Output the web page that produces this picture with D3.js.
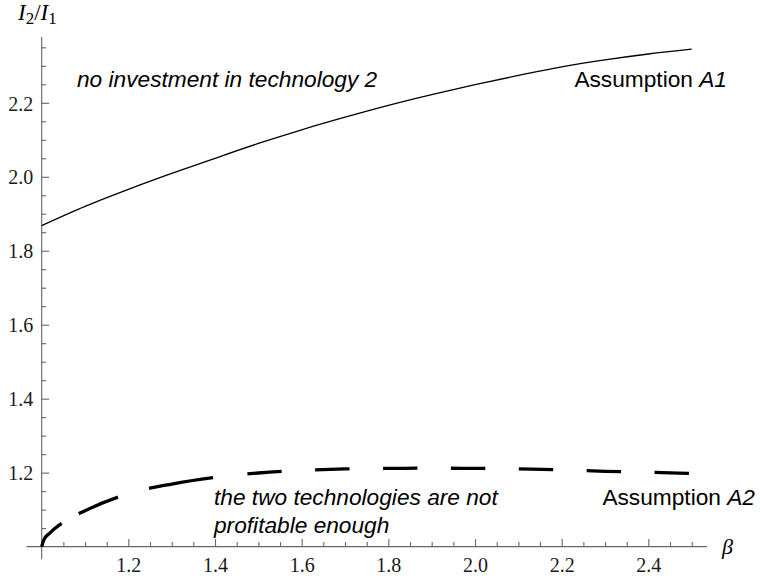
<!DOCTYPE html>
<html>
<head>
<meta charset="utf-8">
<script src="https://cdn.jsdelivr.net/npm/d3@7"></script>
<style>
  html, body { margin: 0; padding: 0; background: #fff; }
  svg { display: block; }
</style>
</head>
<body>
<svg id="chart" width="760" height="583"></svg>
<script>
// Investment ratio I2/I1 against beta under the two assumptions
const betaA1  = [1.0, 1.1, 1.2, 1.3, 1.4, 1.5, 1.6, 1.7, 1.8, 1.9, 2.0, 2.1, 2.2, 2.3, 2.4, 2.5];
const ratioA1 = [1.868, 1.920, 1.966, 2.009, 2.050, 2.090, 2.127, 2.161, 2.193, 2.222, 2.249, 2.274, 2.297, 2.316, 2.332, 2.345];

const betaA2  = [1.0, 1.005, 1.02, 1.05, 1.1, 1.2, 1.3, 1.4, 1.5, 1.6, 1.7, 1.8, 1.9, 2.0, 2.1, 2.2, 2.3, 2.4, 2.5];
const ratioA2 = [1.0, 1.018, 1.038, 1.066, 1.097, 1.143, 1.169, 1.187, 1.199, 1.206, 1.210, 1.2115, 1.212, 1.2115, 1.210, 1.2075, 1.2035, 1.201, 1.198];

const xTicks = [1.2, 1.4, 1.6, 1.8, 2.0, 2.2, 2.4];
const yTicks = [1.2, 1.4, 1.6, 1.8, 2.0, 2.2];
const xMinor = d3.range(21, 51).map(i => i * 0.05).filter(v => !xTicks.some(t => Math.abs(t - v) < 1e-6));
const yMinor = d3.range(21, 48).map(i => i * 0.05).filter(v => !yTicks.some(t => Math.abs(t - v) < 1e-6));

const svg = d3.select("#chart");

const x = d3.scaleLinear().domain([1, 2.5]).range([41.7, 691.7]);
const y = d3.scaleLinear().domain([1, 2.2]).range([546.6, 102.8]);

const axisColor = "#666";
const serif = "'Liberation Serif', 'Times New Roman', serif";
const sans = "'Liberation Sans', Arial, Helvetica, sans-serif";
const noteSize = 22.7;

// axis lines run a little past the origin on both sides
svg.append("line")
  .attr("x1", x(0.965)).attr("x2", x(2.535))
  .attr("y1", y(1)).attr("y2", y(1))
  .attr("stroke", axisColor).attr("stroke-width", 1.1);
svg.append("line")
  .attr("x1", x(1)).attr("x2", x(1))
  .attr("y1", y(0.966)).attr("y2", y(2.378))
  .attr("stroke", axisColor).attr("stroke-width", 1.1);

function styleAxis(g) {
  g.select(".domain").remove();
  g.selectAll(".tick line").attr("stroke", axisColor).attr("stroke-width", 1.1);
  g.selectAll(".tick text").attr("fill", "#1a1a1a").attr("font-family", serif).attr("font-size", 20);
}

// x axis: major and minor ticks pointing up
svg.append("g").attr("transform", `translate(0,${y(1)})`)
  .call(d3.axisBottom(x).tickValues(xMinor).tickSize(-4.5).tickFormat(""))
  .call(styleAxis);
svg.append("g").attr("transform", `translate(0,${y(1)})`)
  .call(d3.axisBottom(x).tickValues(xTicks).tickSize(-7.5).tickPadding(11.5).tickFormat(d3.format(".1f")))
  .call(styleAxis);

// y axis: ticks pointing right
svg.append("g").attr("transform", `translate(${x(1)},0)`)
  .call(d3.axisLeft(y).tickValues(yMinor).tickSize(-4.5).tickFormat(""))
  .call(styleAxis);
svg.append("g").attr("transform", `translate(${x(1)},0)`)
  .call(d3.axisLeft(y).tickValues(yTicks).tickSize(-7.5).tickPadding(8.5).tickFormat(d3.format(".1f")))
  .call(styleAxis)
  .call(g => g.selectAll(".tick text").attr("dy", "0.36em"));

// curves
const lineGen = d3.line().x(d => x(d[0])).y(d => y(d[1])).curve(d3.curveMonotoneX);

svg.append("path")
  .datum(d3.zip(betaA1, ratioA1))
  .attr("d", lineGen)
  .attr("fill", "none").attr("stroke", "#000").attr("stroke-width", 1.3);

const dashed = svg.append("path")
  .datum(d3.zip(betaA2, ratioA2))
  .attr("d", lineGen)
  .attr("fill", "none").attr("stroke", "#000").attr("stroke-width", 3.3)
  .attr("stroke-linecap", "butt");

// long dashes; the first few segments near the origin are uneven
const total = dashed.node().getTotalLength();
const dashes = [31.5, 19.7, 42.5, 32.3, 65, 34.5];
while (d3.sum(dashes) < total + 100) dashes.push(34.4, 33.5);
dashed.attr("stroke-dasharray", dashes.join(","));

// annotations
svg.append("text")
  .attr("x", 77).attr("y", 87)
  .attr("font-family", sans).attr("font-size", noteSize).attr("font-style", "italic").attr("fill", "#000")
  .text("no investment in technology 2");

const a1 = svg.append("text")
  .attr("x", 727).attr("y", 87).attr("text-anchor", "end")
  .attr("font-family", sans).attr("font-size", noteSize).attr("fill", "#000");
a1.append("tspan").text("Assumption ");
a1.append("tspan").attr("font-style", "italic").text("A1");

const a2 = svg.append("text")
  .attr("x", 755).attr("y", 505).attr("text-anchor", "end")
  .attr("font-family", sans).attr("font-size", noteSize).attr("fill", "#000");
a2.append("tspan").text("Assumption ");
a2.append("tspan").attr("font-style", "italic").text("A2");

const note = svg.append("text")
  .attr("font-family", sans).attr("font-size", noteSize).attr("font-style", "italic").attr("fill", "#000");
note.append("tspan").attr("x", 214).attr("y", 505).text("the two technologies are not");
note.append("tspan").attr("x", 214).attr("y", 533).text("profitable enough");

// axis labels
const yl = svg.append("text")
  .attr("x", 18).attr("y", 20)
  .attr("font-family", serif).attr("font-size", 23).attr("fill", "#000");
yl.append("tspan").attr("font-style", "italic").text("I");
yl.append("tspan").attr("font-size", 17).attr("dy", 4).text("2");
yl.append("tspan").attr("dy", -4).text("/");
yl.append("tspan").attr("font-style", "italic").text("I");
yl.append("tspan").attr("font-size", 17).attr("dy", 4).text("1");

svg.append("text")
  .attr("x", 722).attr("y", 554)
  .attr("font-family", serif).attr("font-size", 22).attr("font-style", "italic").attr("fill", "#000")
  .text("β");
</script>
</body>
</html>
